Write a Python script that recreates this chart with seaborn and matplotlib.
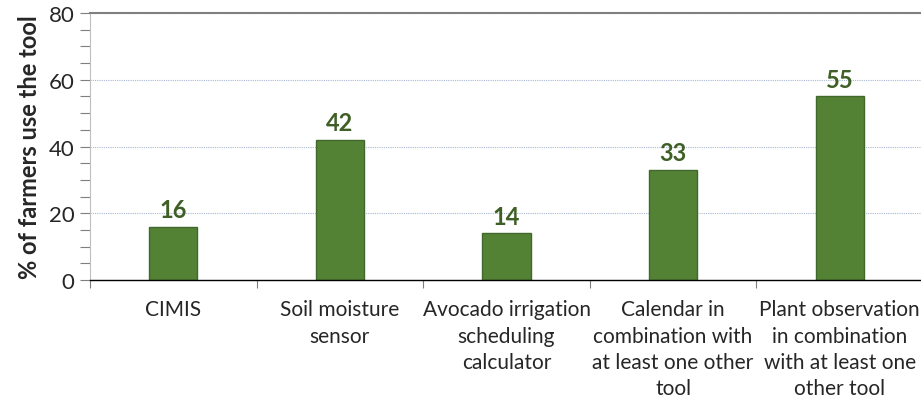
import matplotlib
matplotlib.use("Agg")
import matplotlib.pyplot as plt
import numpy as np
import pandas as pd
import seaborn as sns
from matplotlib.ticker import MultipleLocator, FixedLocator

categories = [
    "CIMIS",
    "Soil moisture\nsensor",
    "Avocado irrigation\nscheduling\ncalculator",
    "Calendar in\ncombination with\nat least one other\ntool",
    "Plant observation\nin combination\nwith at least one\nother tool",
]
percent = [16, 42, 14, 33, 55]

df = pd.DataFrame({"tool": categories, "pct": percent})

sns.set_style("white")
plt.rcParams["font.family"] = ["Lato", "DejaVu Sans"]

fig = plt.figure(figsize=(9.21, 4.06), dpi=100)
ax = fig.add_axes([90 / 921, 125 / 406, 833 / 921, 267 / 406])

sns.barplot(data=df, x="tool", y="pct", color="#548235", width=0.29,
            edgecolor="#41682c", linewidth=1, saturation=1, ax=ax)
for c in ax.containers:
    ax.bar_label(c, fmt="%d", padding=4, fontsize=17, fontweight="bold",
                 color="#3f5f26")

ax.set_xlim(-0.5, len(categories) - 0.5)
ax.set_ylim(0, 80)
ax.yaxis.set_major_locator(MultipleLocator(20))
ax.yaxis.set_minor_locator(MultipleLocator(5))
ax.xaxis.set_minor_locator(FixedLocator(np.arange(len(categories) + 1) - 0.5))

ax.grid(axis="y", which="major", color="#a9b8d4", linestyle=(0, (1, 1)), linewidth=0.8)
ax.set_axisbelow(True)

ax.tick_params(axis="y", which="both", direction="out", length=7, width=0.8,
               color="#7f7f7f", labelsize=16, pad=4, left=True)
ax.tick_params(axis="x", which="major", length=0, labelsize=15, pad=14)
ax.tick_params(axis="x", which="minor", direction="out", length=6, width=0.8,
               color="#7f7f7f", bottom=True)
for lab in ax.get_xticklabels():
    lab.set_linespacing(1.38)

ax.spines["top"].set_visible(True)
ax.spines["top"].set_color("#808080")
ax.spines["top"].set_linewidth(1.5)
ax.spines["right"].set_visible(False)
ax.spines["left"].set_color("#bfbfbf")
ax.spines["left"].set_linewidth(0.8)
ax.spines["bottom"].set_color("#000000")
ax.spines["bottom"].set_linewidth(1)

ax.set_xlabel("")
ax.set_ylabel("% of farmers use the tool", fontsize=17, fontweight="bold", labelpad=6)

fig.savefig("out.png", dpi=100)
